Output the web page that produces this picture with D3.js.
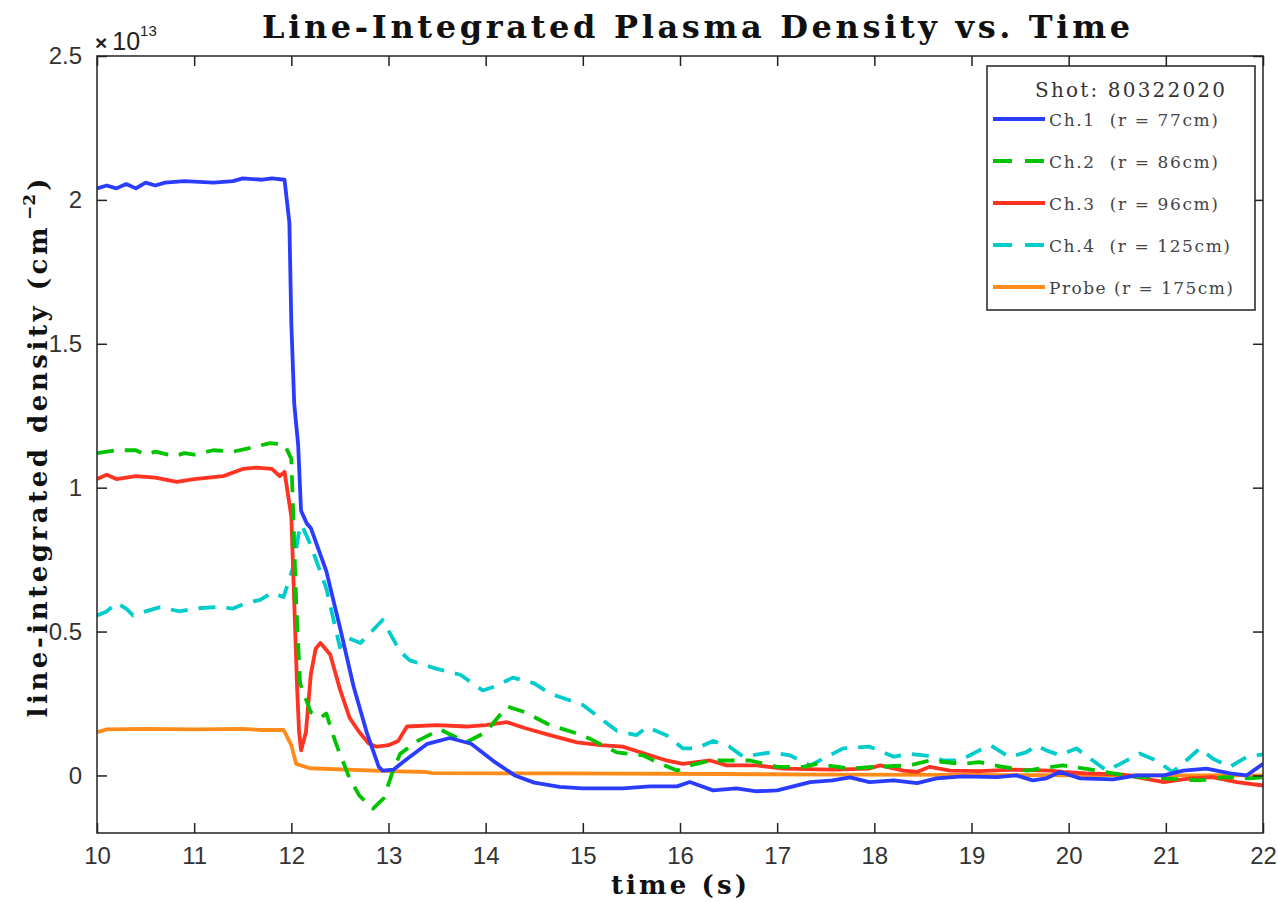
<!DOCTYPE html>
<html>
<head>
<meta charset="utf-8">
<script src="https://cdn.jsdelivr.net/npm/d3@7"></script>
<style>
  body { margin: 0; background: #fff; }
  svg { display: block; }
</style>
</head>
<body>
<svg id="chart" width="1278" height="902"></svg>
<script>
// values in units of 1e13 cm^-2, time in s
const ch1 = [[10.0,2.04],[10.1,2.05],[10.2,2.04],[10.3,2.055],[10.4,2.04],[10.5,2.06],[10.6,2.05],[10.7,2.06],[10.9,2.065],[11.2,2.06],[11.4,2.065],[11.5,2.075],[11.7,2.07],[11.8,2.075],[11.93,2.07],
  [11.98,1.92],[12.0,1.57],[12.03,1.29],[12.07,1.15],[12.1,0.92],[12.16,0.875],[12.2,0.86],[12.36,0.71],[12.5,0.515],[12.64,0.31],[12.78,0.145],[12.9,0.03],[12.94,0.017],[13.05,0.02],[13.2,0.06],[13.4,0.11],[13.63,0.13],[13.85,0.11],[14.08,0.05],[14.3,0.0],[14.5,-0.025],[14.76,-0.04],
  [15.0,-0.045],[15.41,-0.045],[15.69,-0.038],[15.97,-0.038],[16.1,-0.023],[16.34,-0.052],[16.58,-0.045],[16.79,-0.055],[17.0,-0.052],[17.34,-0.023],[17.57,-0.017],[17.75,-0.007],[17.95,-0.023],[18.2,-0.017],[18.44,-0.027],[18.64,-0.01],[18.91,-0.003],
  [19.26,-0.006],[19.46,0.0],[19.63,-0.017],[19.77,-0.01],[19.91,0.012],[20.12,-0.01],[20.46,-0.014],[20.7,0.0],[20.98,0.0],[21.18,0.017],[21.42,0.024],[21.66,0.007],[21.83,0.0],[22.0,0.04]];

const ch2 = [[10.0,1.12],[10.2,1.13],[10.4,1.13],[10.5,1.115],[10.6,1.125],[10.8,1.11],[10.9,1.12],[11.0,1.115],[11.2,1.13],[11.4,1.125],[11.6,1.14],[11.78,1.155],[11.93,1.15],
  [12.0,1.1],[12.05,0.6],[12.09,0.32],[12.2,0.22],[12.3,0.2],[12.36,0.215],[12.45,0.12],[12.5,0.075],[12.6,-0.01],[12.7,-0.07],[12.84,-0.115],[12.95,-0.08],[13.05,0.02],[13.12,0.075],[13.3,0.12],[13.53,0.16],[13.8,0.115],[14.0,0.15],[14.22,0.24],[14.4,0.22],[14.66,0.175],[14.9,0.15],
  [15.07,0.128],[15.35,0.08],[15.62,0.07],[15.76,0.046],[15.97,0.017],[16.1,0.035],[16.31,0.052],[16.72,0.052],[17.0,0.03],[17.27,0.03],[17.41,0.04],[17.75,0.024],[18.02,0.03],[18.37,0.035],[18.57,0.052],[18.91,0.04],
  [19.08,0.046],[19.32,0.03],[19.57,0.017],[19.94,0.035],[20.29,0.017],[20.63,-0.003],[20.98,-0.01],[21.35,-0.017],[21.59,-0.006],[21.87,-0.01],[22.0,-0.006]];

const ch3 = [[10.0,1.03],[10.1,1.045],[10.2,1.03],[10.4,1.04],[10.6,1.035],[10.82,1.02],[11.0,1.03],[11.3,1.04],[11.5,1.065],[11.64,1.07],[11.8,1.065],[11.88,1.04],[11.93,1.055],
  [12.0,0.9],[12.03,0.6],[12.06,0.3],[12.08,0.15],[12.1,0.087],[12.15,0.15],[12.2,0.35],[12.25,0.44],[12.3,0.46],[12.4,0.42],[12.5,0.3],[12.6,0.2],[12.7,0.15],[12.8,0.11],[12.88,0.1],[13.0,0.105],[13.1,0.12],[13.19,0.17],[13.5,0.175],[13.8,0.17],[14.0,0.175],[14.22,0.185],[14.4,0.165],[14.66,0.14],
  [14.94,0.115],[15.18,0.105],[15.41,0.1],[15.69,0.07],[15.86,0.052],[16.03,0.04],[16.31,0.052],[16.48,0.035],[16.79,0.035],[17.06,0.024],[17.57,0.02],[17.95,0.024],[18.06,0.035],[18.3,0.017],[18.44,0.012],[18.57,0.03],[18.78,0.017],
  [19.08,0.015],[19.43,0.02],[19.81,0.017],[19.94,0.012],[20.18,0.007],[20.56,0.003],[20.77,-0.01],[20.98,-0.023],[21.25,-0.01],[21.48,-0.006],[21.73,-0.023],[22.0,-0.035]];

const ch4 = [[10.0,0.556],[10.1,0.57],[10.2,0.6],[10.3,0.58],[10.37,0.556],[10.5,0.57],[10.65,0.585],[10.85,0.57],[11.0,0.58],[11.23,0.585],[11.4,0.58],[11.54,0.6],[11.68,0.61],[11.8,0.635],[11.92,0.62],
  [12.02,0.725],[12.09,0.87],[12.12,0.86],[12.2,0.8],[12.36,0.65],[12.5,0.445],[12.57,0.48],[12.71,0.46],[12.94,0.54],[13.12,0.43],[13.22,0.4],[13.5,0.37],[13.74,0.35],[13.97,0.295],[14.1,0.31],[14.28,0.34],[14.5,0.32],[14.66,0.285],
  [15.0,0.245],[15.35,0.155],[15.55,0.14],[15.66,0.168],[15.86,0.14],[16.03,0.094],[16.17,0.094],[16.34,0.12],[16.51,0.1],[16.65,0.065],[16.93,0.08],[17.13,0.07],[17.34,0.035],[17.47,0.058],[17.68,0.094],[17.95,0.1],[18.2,0.065],[18.37,0.075],[18.57,0.068],[18.71,0.052],[18.88,0.052],
  [19.08,0.087],[19.2,0.104],[19.39,0.064],[19.56,0.08],[19.67,0.104],[19.77,0.087],[19.91,0.07],[20.08,0.094],[20.22,0.059],[20.39,0.017],[20.53,0.04],[20.73,0.076],[20.9,0.052],[21.07,0.012],[21.21,0.052],[21.35,0.094],[21.48,0.059],[21.66,0.03],[21.83,0.064],[22.0,0.073]];

const probe = [[10.0,0.15],[10.1,0.16],[10.5,0.162],[11.0,0.16],[11.5,0.162],[11.68,0.158],[11.92,0.158],[12.0,0.105],[12.05,0.04],[12.19,0.025],[13.0,0.015],[13.39,0.012],[13.45,0.008],[14.76,0.007],[16.4,0.005],[17.5,0.003],[19.0,0.002],[20.5,0.0],[22.0,0.0]];

const seriesNames = ['Ch.1  (r = 77cm)', 'Ch.2  (r = 86cm)', 'Ch.3  (r = 96cm)', 'Ch.4  (r = 125cm)', 'Probe (r = 175cm)'];
const seriesData = [ch1, ch2, ch3, ch4, probe];
const seriesColors = ['#2a3cff', '#00c400', '#ff3322', '#00cccc', '#ff8c1a'];
const seriesDashed = [false, true, false, true, false];

const xTicks = [10, 11, 12, 13, 14, 15, 16, 17, 18, 19, 20, 21, 22];
const yTicks = [0, 0.5, 1, 1.5, 2, 2.5];

const shotLabel = 'Shot: 80322020';
const serif = '"DejaVu Serif", "Liberation Serif", serif';
const sans = '"Liberation Sans", Arial, sans-serif';

const svg = d3.select('#chart');
const margin = { left: 97, right: 15, top: 56, bottom: 69 };
const W = 1278, H = 902;

const x = d3.scaleLinear().domain([10, 22]).range([margin.left, W - margin.right]);
const y = d3.scaleLinear().domain([-0.2, 2.5]).range([H - margin.bottom, margin.top]);

// spread a text element to a given width (the reference uses wide, spaced glyphs)
const fitWidth = (sel, w) => sel.attr('textLength', w).attr('lengthAdjust', 'spacing');

// lines
const line = d3.line().x(d => x(d[0])).y(d => y(d[1]));

svg.append('defs').append('clipPath').attr('id', 'clip')
  .append('rect')
    .attr('x', x(10)).attr('y', y(2.5))
    .attr('width', x(22) - x(10)).attr('height', y(-0.2) - y(2.5));

const plot = svg.append('g').attr('clip-path', 'url(#clip)');
[4, 3, 2, 1, 0].forEach(i => {
  plot.append('path')
    .datum(seriesData[i])
    .attr('d', line)
    .attr('fill', 'none')
    .attr('stroke', seriesColors[i])
    .attr('stroke-width', 3.8)
    .attr('stroke-linejoin', 'round')
    .attr('stroke-dasharray', seriesDashed[i] ? '17,11' : null);
});

// axes (ticks inward, all four sides)
const tickLen = 10;
const axisStyle = g => {
  g.select('.domain').remove();
  g.selectAll('.tick line').attr('stroke', '#222').attr('stroke-width', 1.5);
  g.selectAll('.tick text').attr('fill', '#333').style('font-family', sans).style('font-size', '24px');
};

svg.append('g')
  .attr('transform', `translate(0,${y(-0.2)})`)
  .call(d3.axisBottom(x).tickValues(xTicks).tickFormat(d3.format('d')).tickSizeInner(-tickLen).tickPadding(tickLen + 4))
  .call(axisStyle);
svg.append('g')
  .attr('transform', `translate(0,${y(2.5)})`)
  .call(d3.axisTop(x).tickValues(xTicks).tickSizeInner(-tickLen).tickFormat(''))
  .call(axisStyle);
svg.append('g')
  .attr('transform', `translate(${x(10)},0)`)
  .call(d3.axisLeft(y).tickValues(yTicks).tickFormat(d => d).tickSizeInner(-tickLen).tickPadding(tickLen + 5))
  .call(axisStyle);
svg.append('g')
  .attr('transform', `translate(${x(22)},0)`)
  .call(d3.axisRight(y).tickValues(yTicks).tickSizeInner(-tickLen).tickFormat(''))
  .call(axisStyle);

svg.append('rect')
  .attr('x', x(10)).attr('y', y(2.5))
  .attr('width', x(22) - x(10)).attr('height', y(-0.2) - y(2.5))
  .attr('fill', 'none').attr('stroke', '#222').attr('stroke-width', 1.5);

// exponent
const expo = svg.append('text')
  .attr('x', x(10) - 2).attr('y', y(2.5) - 6)
  .attr('fill', '#222').style('font-family', sans).style('font-size', '25px');
expo.append('tspan').style('font-weight', 'bold').style('font-size', '21px').text('\u00d7');
expo.append('tspan').attr('dx', 5).text('10');
expo.append('tspan').attr('dy', -14).style('font-size', '15px').text('13');

// title and labels
fitWidth(svg.append('text')
  .attr('x', 696).attr('y', 38)
  .attr('text-anchor', 'middle')
  .style('font-family', serif).style('font-weight', 'bold').style('font-size', '32px')
  .attr('fill', '#111')
  .text('Line-Integrated Plasma Density vs. Time'), 868);

fitWidth(svg.append('text')
  .attr('x', 679).attr('y', 894)
  .attr('text-anchor', 'middle')
  .style('font-family', serif).style('font-weight', 'bold').style('font-size', '26px')
  .attr('fill', '#111')
  .text('time (s)'), 136);

const ylab = svg.append('text')
  .attr('transform', 'translate(47,448) rotate(-90)')
  .attr('text-anchor', 'middle')
  .style('font-family', serif).style('font-weight', 'bold').style('font-size', '26px')
  .attr('fill', '#111');
fitWidth(ylab.append('tspan').text('line-integrated density (cm'), 490);
ylab.append('tspan').attr('dx', 4).attr('dy', -12).style('font-size', '17px').text('\u22122');
ylab.append('tspan').attr('dx', 3).attr('dy', 12).text(')');

// legend
const leg = svg.append('g').attr('transform', 'translate(987,66)');
leg.append('rect')
  .attr('width', 268).attr('height', 244)
  .attr('fill', '#fff').attr('stroke', '#222').attr('stroke-width', 1.5);
fitWidth(leg.append('text')
  .attr('x', 48).attr('y', 31)
  .style('font-family', serif).style('font-size', '20px')
  .attr('fill', '#333')
  .text(shotLabel), 190);

const legendWidths = [169, 169, 169, 181, 184];
const rows = leg.selectAll('g.row').data(seriesNames).enter().append('g')
  .attr('class', 'row')
  .attr('transform', (d, i) => `translate(0,${53 + i * 42})`);
rows.append('line')
  .attr('x1', 6).attr('x2', 58)
  .attr('stroke', (d, i) => seriesColors[i])
  .attr('stroke-width', 3.8)
  .attr('stroke-dasharray', (d, i) => seriesDashed[i] ? '19,13' : null);
rows.append('text')
  .attr('x', 62).attr('y', 7)
  .style('font-family', serif).style('font-size', '17px')
  .style('white-space', 'pre')
  .attr('xml:space', 'preserve')
  .attr('fill', '#444')
  .attr('textLength', (d, i) => legendWidths[i])
  .attr('lengthAdjust', 'spacing')
  .text(d => d);
</script>
</body>
</html>
